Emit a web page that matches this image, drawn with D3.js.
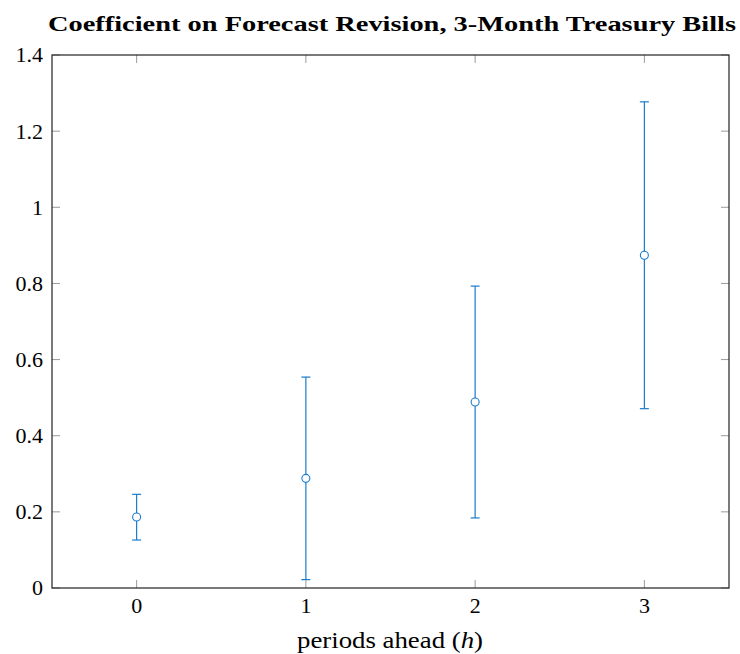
<!DOCTYPE html>
<html>
<head>
<meta charset="utf-8">
<script src="https://cdn.jsdelivr.net/npm/d3@7"></script>
<style>
  html, body { margin: 0; padding: 0; background: #fff; }
  svg text { font-family: "Liberation Serif", "DejaVu Serif", serif; fill: #000; }
</style>
</head>
<body>
<svg id="chart" width="740" height="654"></svg>
<script>
// Horizons and estimated coefficients with confidence bounds
const horizons = [0, 1, 2, 3];
const coefficients = [0.1865, 0.288, 0.4886, 0.874];
const lowerBounds = [0.126, 0.022, 0.184, 0.471];
const upperBounds = [0.246, 0.554, 0.793, 1.277];
const yTicks = [0, 0.2, 0.4, 0.6, 0.8, 1, 1.2, 1.4];
const xTicks = [0, 1, 2, 3];

const svg = d3.select("#chart");
const margin = { left: 52, right: 11, top: 55, bottom: 66 };
const W = 740, H = 654;
const x0 = margin.left, x1 = W - margin.right;
const y0 = H - margin.bottom, y1 = margin.top;

const x = d3.scaleLinear().domain([-0.5, 3.5]).range([x0, x1]);
const y = d3.scaleLinear().domain([0, 1.4]).range([y0, y1]);
const blue = "#1a7ccc";
const tickLen = 8;

// Tick marks on all four sides, pointing inward
const g = svg.append("g");
yTicks.forEach(t => {
  g.append("line").attr("x1", x0).attr("x2", x0 + tickLen)
    .attr("y1", y(t)).attr("y2", y(t)).attr("stroke", "#9a9a9a").attr("stroke-width", 1);
  g.append("line").attr("x1", x1).attr("x2", x1 - tickLen)
    .attr("y1", y(t)).attr("y2", y(t)).attr("stroke", "#9a9a9a").attr("stroke-width", 1);
  g.append("text").attr("x", x0 - 9).attr("y", y(t)).attr("dy", "0.34em")
    .attr("text-anchor", "end").attr("font-size", 22).text(d3.format("")(t));
});
xTicks.forEach(t => {
  g.append("line").attr("x1", x(t)).attr("x2", x(t))
    .attr("y1", y0).attr("y2", y0 - tickLen).attr("stroke", "#9a9a9a").attr("stroke-width", 1);
  g.append("line").attr("x1", x(t)).attr("x2", x(t))
    .attr("y1", y1).attr("y2", y1 + tickLen).attr("stroke", "#9a9a9a").attr("stroke-width", 1);
  g.append("text").attr("x", x(t)).attr("y", 613)
    .attr("text-anchor", "middle").attr("font-size", 22).text(t);
});

// Plot frame
svg.append("rect").attr("x", x0).attr("y", y1)
  .attr("width", x1 - x0).attr("height", y0 - y1)
  .attr("fill", "none").attr("stroke", "#222").attr("stroke-width", 1.2);

// Error bars with caps and open circle markers
const capHalf = 4.5;
const pts = svg.append("g");
horizons.forEach((h, i) => {
  const cx = x(h);
  pts.append("line").attr("x1", cx).attr("x2", cx)
    .attr("y1", y(lowerBounds[i])).attr("y2", y(upperBounds[i]))
    .attr("stroke", blue).attr("stroke-width", 1.2);
  [lowerBounds[i], upperBounds[i]].forEach(v => {
    pts.append("line").attr("x1", cx - capHalf).attr("x2", cx + capHalf)
      .attr("y1", y(v)).attr("y2", y(v))
      .attr("stroke", blue).attr("stroke-width", 1.2);
  });
  pts.append("circle").attr("cx", cx).attr("cy", y(coefficients[i])).attr("r", 4)
    .attr("fill", "#fff").attr("stroke", blue).attr("stroke-width", 1.1);
});

// Title
svg.append("text").attr("x", 392).attr("y", 31).attr("text-anchor", "middle")
  .attr("font-size", 21).attr("font-weight", "bold")
  .attr("textLength", 688).attr("lengthAdjust", "spacingAndGlyphs")
  .text("Coefficient on Forecast Revision, 3-Month Treasury Bills");

// Axis label
const xl = svg.append("text").attr("x", 390).attr("y", 648)
  .attr("text-anchor", "middle").attr("font-size", 23)
  .attr("textLength", 186).attr("lengthAdjust", "spacingAndGlyphs");
xl.append("tspan").text("periods ahead (");
xl.append("tspan").attr("font-style", "italic").text("h");
xl.append("tspan").text(")");
</script>
</body>
</html>
